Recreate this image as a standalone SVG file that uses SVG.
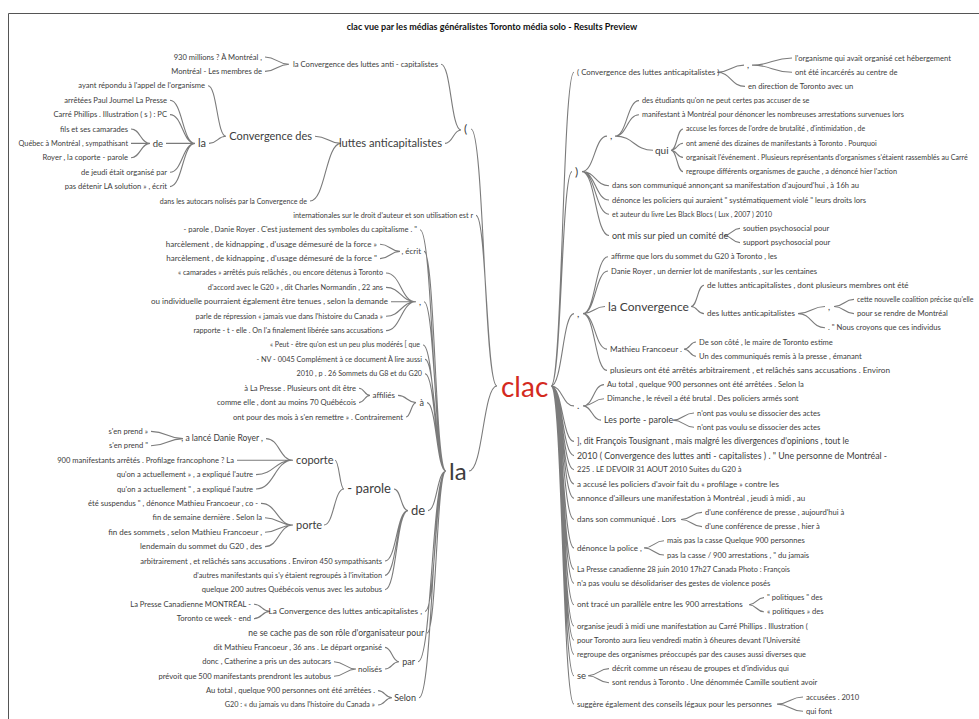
<svg xmlns="http://www.w3.org/2000/svg" width="979" height="719" viewBox="0 0 979 719">
<style>
text{font-family:Lato,"Noto Sans","Liberation Sans",sans-serif;fill:#3d3d3d}
.e{text-anchor:end}
.a{font-size:7.6px}.a2{font-size:7.2px}.a3{font-size:7.3px}.b{font-size:8px}.c{font-size:8.5px}.d{font-size:9px}.f{font-size:10px}.g{font-size:11px}.h{font-size:12px}.i{font-size:13px}
.title{font-size:9px;font-weight:bold;fill:#111;text-anchor:middle}
#connectors path{fill:none;stroke:#7b7b7b;stroke-width:1.1}
</style>
<rect x="0" y="0" width="979" height="719" fill="#fff"/>
<path d="M8.5 719V13.5H979" fill="none" stroke="#555" stroke-width="1"/>
<text class="title" x="492" y="30">clac vue par les médias généralistes Toronto média solo - Results Preview</text>
<g id="connectors">
<path d="M471 129C484 129 484 386 497 386M476 215.4C486.5 215.4 486.5 386 497 386M469 471C483 471 483 386 497 386"/>
<path d="M441 64.2C451 64.2 451 130 461 130M445 143.4C453 143.4 453 130 461 130"/>
<path d="M265 57C277 57 277 64.2 289 64.2M265 71.4C277 71.4 277 64.2 289 64.2"/>
<path d="M315 136.2C328 136.2 328 143.4 341 143.4M310 201C325.5 201 325.5 143.4 341 143.4"/>
<path d="M208 85.8C217 85.8 217 136.2 226 136.2M209 143.4C217.5 143.4 217.5 136.2 226 136.2"/>
<path d="M170 100.2C182.5 100.2 182.5 143.4 195 143.4M170 114.6C182.5 114.6 182.5 143.4 195 143.4M166 143.4H195M170 172.2C182.5 172.2 182.5 143.4 195 143.4M170 186.6C182.5 186.6 182.5 143.4 195 143.4"/>
<path d="M131 129C140.5 129 140.5 143.4 150 143.4M131 143.4H150M131 157.8C140.5 157.8 140.5 143.4 150 143.4"/>
<path d="M420 229.8C433 229.8 433 471 446 471M424 251.4C435 251.4 435 471 446 471M424 301.8C435 301.8 435 471 446 471M423 345C434.5 345 434.5 471 446 471M425 359.4C435.5 359.4 435.5 471 446 471M425 373.8C435.5 373.8 435.5 471 446 471M427 402.6C436.5 402.6 436.5 471 446 471M428 510.6C437 510.6 437 471 446 471M425 611.4C435.5 611.4 435.5 471 446 471M427 633C436.5 633 436.5 471 446 471M418 661.8C432 661.8 432 471 446 471M419 697.8C432.5 697.8 432.5 471 446 471"/>
<path d="M380 244.2C390 244.2 390 251.4 400 251.4M380 258.6C390 258.6 390 251.4 400 251.4"/>
<path d="M386 273C401 273 401 301.8 416 301.8M386 287.4C401 287.4 401 301.8 416 301.8M391 301.8H416M386 316.2C401 316.2 401 301.8 416 301.8M386 330.6C401 330.6 401 301.8 416 301.8"/>
<path d="M398 395.4C407 395.4 407 402.6 416 402.6M406 417C411 417 411 402.6 416 402.6"/>
<path d="M359 388.2C364.5 388.2 364.5 395.4 370 395.4M359 402.6C364.5 402.6 364.5 395.4 370 395.4"/>
<path d="M394 489C401 489 401 510.6 408 510.6M385 561C396.5 561 396.5 510.6 408 510.6M385 575.4C396.5 575.4 396.5 510.6 408 510.6M385 589.8C396.5 589.8 396.5 510.6 408 510.6"/>
<path d="M335 460.2C339.5 460.2 339.5 489 344 489M324 525C334 525 334 489 344 489"/>
<path d="M266 438.6C279.5 438.6 279.5 460.2 293 460.2M237 460.2H293M256 474.6C274.5 474.6 274.5 460.2 293 460.2M256 489C274.5 489 274.5 460.2 293 460.2"/>
<path d="M151 431.4C167 431.4 167 438.6 183 438.6M151 445.8C167 445.8 167 438.6 183 438.6"/>
<path d="M261 503.4C277 503.4 277 525 293 525M265 517.8C279 517.8 279 525 293 525M265 532.2C279 532.2 279 525 293 525M265 546.6C279 546.6 279 525 293 525"/>
<path d="M254 604.2C262 604.2 262 611.4 270 611.4M254 618.6C262 618.6 262 611.4 270 611.4"/>
<path d="M385 647.4C392 647.4 392 661.8 399 661.8M385 669C392 669 392 661.8 399 661.8"/>
<path d="M334 661.8C345 661.8 345 669 356 669M334 676.2C345 676.2 345 669 356 669"/>
<path d="M378 690.6C385 690.6 385 697.8 392 697.8M378 705C385 705 385 697.8 392 697.8"/>
<path d="M551 386C562.5 386 562.5 72.2 574 72.2M551 386C561.5 386 561.5 171.6 572 171.6M551 386C562.5 386 562.5 313.6 574 313.6M551 386C562.5 386 562.5 405.9 574 405.9M551 386C562.5 386 562.5 441.4 574 441.4M551 386C562.5 386 562.5 455.6 574 455.6M551 386C562.5 386 562.5 469.8 574 469.8M551 386C562.5 386 562.5 484 574 484M551 386C562.5 386 562.5 498.2 574 498.2M551 386C562.5 386 562.5 519.5 574 519.5M551 386C562.5 386 562.5 547.9 574 547.9M551 386C562.5 386 562.5 569.2 574 569.2M551 386C562.5 386 562.5 583.4 574 583.4M551 386C562.5 386 562.5 604.7 574 604.7M551 386C562.5 386 562.5 626 574 626M551 386C562.5 386 562.5 640.2 574 640.2M551 386C562.5 386 562.5 654.4 574 654.4M551 386C562.5 386 562.5 675.7 574 675.7M551 386C562.5 386 562.5 704.1 574 704.1"/>
<path d="M717 72.2C730.5 72.2 730.5 65.1 744 65.1M717 72.2C731 72.2 731 86.4 745 86.4"/>
<path d="M752 65.1C772 65.1 772 58 792 58M752 65.1C772 65.1 772 72.2 792 72.2"/>
<path d="M582 171.6C594.5 171.6 594.5 136.1 607 136.1M582 171.6C595.5 171.6 595.5 185.8 609 185.8M582 171.6C595.5 171.6 595.5 200 609 200M582 171.6C595.5 171.6 595.5 214.2 609 214.2M582 171.6C595.5 171.6 595.5 235.5 609 235.5"/>
<path d="M615 136.1C627 136.1 627 100.6 639 100.6M615 136.1C627 136.1 627 114.8 639 114.8M615 136.1C634 136.1 634 150.3 653 150.3"/>
<path d="M671 150.3C677 150.3 677 129 683 129M671 150.3C677 150.3 677 143.2 683 143.2M671 150.3C677 150.3 677 157.4 683 157.4M671 150.3C677 150.3 677 171.6 683 171.6"/>
<path d="M724 235.5C732 235.5 732 228.4 740 228.4M724 235.5C732 235.5 732 242.6 740 242.6"/>
<path d="M583 313.6C595.5 313.6 595.5 256.8 608 256.8M583 313.6C595.5 313.6 595.5 271 608 271M583 313.6C594 313.6 594 306.5 605 306.5M583 313.6C595 313.6 595 349.1 607 349.1M583 313.6C595 313.6 595 370.4 607 370.4"/>
<path d="M691 306.5C697.5 306.5 697.5 285.2 704 285.2M691 306.5C697.5 306.5 697.5 313.6 704 313.6"/>
<path d="M798 313.6C811.5 313.6 811.5 306.5 825 306.5M798 313.6C811.5 313.6 811.5 327.8 825 327.8"/>
<path d="M834 306.5C844 306.5 844 299.4 854 299.4M834 306.5C844 306.5 844 313.6 854 313.6"/>
<path d="M684 349.1C690 349.1 690 342 696 342M684 349.1C690 349.1 690 356.2 696 356.2"/>
<path d="M583 405.9C593.5 405.9 593.5 384.6 604 384.6M583 405.9C593.5 405.9 593.5 398.8 604 398.8M583 405.9C592 405.9 592 420.1 601 420.1"/>
<path d="M673 420.1C683.5 420.1 683.5 413 694 413M673 420.1C683.5 420.1 683.5 427.2 694 427.2"/>
<path d="M681 519.5C691.5 519.5 691.5 512.4 702 512.4M681 519.5C691.5 519.5 691.5 526.6 702 526.6"/>
<path d="M644 547.9C654 547.9 654 540.8 664 540.8M644 547.9C654 547.9 654 555 664 555"/>
<path d="M749 604.7C756.5 604.7 756.5 597.6 764 597.6M749 604.7C756.5 604.7 756.5 611.8 764 611.8"/>
<path d="M588 675.7C598.5 675.7 598.5 668.6 609 668.6M588 675.7C598.5 675.7 598.5 682.8 609 682.8"/>
<path d="M777 704.1C790 704.1 790 697 803 697M777 704.1C790 704.1 790 711.2 803 711.2"/>
</g>
<g id="root"><text x="501" y="397" style="font-size:28px;fill:#d42a1e">clac</text></g>
<g id="n-paren-open"><text class="h" x="464" y="133">(</text></g>
<g id="n-laconv-anti"><text class="e" style="font-size:7.7px" x="438" y="66.7">la Convergence des luttes anti - capitalistes</text></g>
<g id="L1"><text class="a e" x="262" y="59.5">930 millions ? À Montréal ,</text></g>
<g id="L2"><text class="a e" x="262" y="73.9">Montréal - Les membres de</text></g>
<g id="n-luttes"><text class="e" style="font-size:11.2px" x="442" y="147.1">luttes anticapitalistes</text></g>
<g id="n-convdes"><text class="g e" x="312" y="139.8">Convergence des</text></g>
<g id="L3"><text class="a e" x="205" y="88.3">ayant répondu à l'appel de l'organisme</text></g>
<g id="n-la-small"><text class="g e" x="206" y="147">la</text></g>
<g id="L4"><text class="a e" x="167" y="102.7">arrêtées Paul Journel La Presse</text></g>
<g id="L5"><text class="a e" x="167" y="117.1">Carré Phillips . Illustration ( s ) : PC</text></g>
<g id="n-de-small"><text class="e" style="font-size:9.5px" x="163" y="146.5">de</text></g>
<g id="L6"><text class="a e" x="128" y="131.5">fils et ses camarades</text></g>
<g id="L7"><text class="a3 e" x="128" y="145.9">Québec à Montréal , sympathisant</text></g>
<g id="L8"><text class="a e" x="128" y="160.3">Royer , la coporte - parole</text></g>
<g id="L9"><text class="a e" x="167" y="174.7">de jeudi était organisé par</text></g>
<g id="L10"><text class="a e" x="167" y="189.1">pas détenir LA solution » , écrit</text></g>
<g id="L11"><text class="e" style="font-size:7.1px" x="307" y="203.5">dans les autocars nolisés par la Convergence de</text></g>
<g id="L12"><text class="a2 e" x="473" y="217.8">internationales sur le droit d'auteur et son utilisation est r</text></g>
<g id="n-la-big"><text x="449" y="480" style="font-size:24px">la</text></g>
<g id="L13"><text class="a e" x="417" y="232.3">- parole , Danie Royer . C'est justement des symboles du capitalisme . "</text></g>
<g id="n-ecrit"><text class="b e" x="421" y="254">, écrit</text></g>
<g id="L14"><text class="b e" x="377" y="246.8">harcèlement , de kidnapping , d'usage démesuré de la force »</text></g>
<g id="L15"><text class="b e" x="377" y="261.2">harcèlement , de kidnapping , d'usage démesuré de la force "</text></g>
<g id="n-comma-l"><text class="d e" x="421" y="304.8">,</text></g>
<g id="L16"><text class="a2 e" x="383" y="275.4">« camarades » arrêtés puis relâchés , ou encore détenus à Toronto</text></g>
<g id="L17"><text class="a3 e" x="383" y="289.8">d'accord avec le G20 » , dit Charles Normandin , 22 ans</text></g>
<g id="L18"><text class="b e" x="388" y="304.4">ou individuelle pourraient également être tenues , selon la demande</text></g>
<g id="L19"><text class="a3 e" x="383" y="318.6">parle de répression « jamais vue dans l'histoire du Canada »</text></g>
<g id="L20"><text class="a2 e" x="383" y="333">rapporte - t - elle . On l'a finalement libérée sans accusations</text></g>
<g id="L21"><text class="e" style="font-size:7px" x="420" y="347.4">« Peut - être qu'on est un peu plus modérés [ que</text></g>
<g id="L22"><text class="a3 e" x="422" y="361.8">- NV - 0045 Complément à ce document À lire aussi</text></g>
<g id="L23"><text class="a2 e" x="422" y="376.2">2010 , p . 26 Sommets du G8 et du G20</text></g>
<g id="n-a"><text class="d e" x="424" y="405.6">à</text></g>
<g id="n-affilies"><text class="b e" x="395" y="398">affiliés</text></g>
<g id="L24"><text class="a e" x="356" y="390.7">à La Presse . Plusieurs ont dit être</text></g>
<g id="L25"><text class="a e" x="356" y="405.1">comme elle , dont au moins 70 Québécois</text></g>
<g id="L26"><text class="a e" x="403" y="419.5">ont pour des mois à s'en remettre » . Contrairement</text></g>
<g id="n-de-big"><text class="i" x="411" y="514.9">de</text></g>
<g id="n-parole"><text class="i e" x="391" y="493.3">- parole</text></g>
<g id="n-coporte"><text class="g" x="296" y="463.8">coporte</text></g>
<g id="n-lance"><text class="c e" x="263" y="441.4">, a lancé Danie Royer ,</text></g>
<g id="L27"><text class="a e" x="148" y="433.9">s'en prend »</text></g>
<g id="L28"><text class="a e" x="148" y="448.3">s'en prend "</text></g>
<g id="L29"><text class="a e" x="234" y="462.7">900 manifestants arrêtés . Profilage francophone ? La</text></g>
<g id="L30"><text class="a e" x="253" y="477.1">qu'on a actuellement » , a expliqué l'autre</text></g>
<g id="L31"><text class="a e" x="253" y="491.5">qu'on a actuellement " , a expliqué l'autre</text></g>
<g id="n-porte"><text class="g" x="296" y="528.6">porte</text></g>
<g id="L32"><text class="a e" x="258" y="505.9">été suspendus " , dénonce Mathieu Francoeur , co -</text></g>
<g id="L33"><text class="a e" x="262" y="520.3">fin de semaine dernière . Selon la</text></g>
<g id="L34"><text class="b e" x="262" y="534.8">fin des sommets , selon Mathieu Francoeur ,</text></g>
<g id="L35"><text class="e" style="font-size:7.9px" x="262" y="549.2">lendemain du sommet du G20 , des</text></g>
<g id="L36"><text class="a e" x="382" y="563.5">arbitrairement , et relâchés sans accusations . Environ 450 sympathisants</text></g>
<g id="L37"><text class="a3 e" x="382" y="577.8">d'autres manifestants qui s'y étaient regroupés à l'invitation</text></g>
<g id="L38"><text class="a e" x="382" y="592.3">quelque 200 autres Québécois venus avec les autobus</text></g>
<g id="n-laconv-comma"><text class="e" style="font-size:8.2px" x="422" y="614.1">La Convergence des luttes anticapitalistes ,</text></g>
<g id="L39"><text class="a e" x="251" y="606.7">La Presse Canadienne MONTRÉAL -</text></g>
<g id="L40"><text class="a e" x="251" y="621.1">Toronto ce week - end</text></g>
<g id="L41"><text class="c e" x="424" y="635.8">ne se cache pas de son rôle d'organisateur pour</text></g>
<g id="n-par"><text class="d e" x="415" y="664.8">par</text></g>
<g id="L42"><text class="a e" x="382" y="649.9">dit Mathieu Francoeur , 36 ans . Le départ organisé</text></g>
<g id="n-nolises"><text class="b e" x="382" y="671.6">nolisés</text></g>
<g id="L43"><text class="a e" x="331" y="664.3">donc , Catherine a pris un des autocars</text></g>
<g id="L44"><text class="a e" x="331" y="678.7">prévoit que 500 manifestants prendront les autobus</text></g>
<g id="n-selon"><text class="d e" x="416" y="700.8">Selon</text></g>
<g id="L45"><text class="a e" x="375" y="693.1">Au total , quelque 900 personnes ont été arrêtées .</text></g>
<g id="L46"><text class="a3 e" x="375" y="707.4">G20 : « du jamais vu dans l'histoire du Canada »</text></g>
<g id="n-conv-paren"><text x="577" y="74.8" style="font-size:7.9px">( Convergence des luttes anticapitalistes )</text></g>
<g id="n-comma-r1"><text class="d" x="747" y="68.1">,</text></g>
<g id="R1"><text class="a" x="795" y="60.5">l'organisme qui avait organisé cet hébergement</text></g>
<g id="R2"><text class="a" x="795" y="74.7">ont été incarcérés au centre de</text></g>
<g id="R3"><text class="a" x="748" y="88.9">en direction de Toronto avec un</text></g>
<g id="n-paren-close"><text class="h" x="575" y="175.6">)</text></g>
<g id="n-comma-r2"><text class="f" x="610" y="139.4">,</text></g>
<g id="R4"><text class="a3" x="642" y="103">des étudiants qu'on ne peut certes pas accuser de se</text></g>
<g id="R5"><text class="a3" x="642" y="117.2">manifestant à Montréal pour dénoncer les nombreuses arrestations survenues lors</text></g>
<g id="n-qui"><text class="f" x="655" y="153.6">qui</text></g>
<g id="R6"><text style="font-size:7px" x="686" y="131.4">accuse les forces de l'ordre de brutalité , d'intimidation , de</text></g>
<g id="R7"><text class="a2" x="686" y="145.6">ont amené des dizaines de manifestants à Toronto . Pourquoi</text></g>
<g id="R8"><text style="font-size:7.1px" x="686" y="159.8">organisait l'événement . Plusieurs représentants d'organismes s'étaient rassemblés au Carré</text></g>
<g id="R9"><text class="a3" x="686" y="174">regroupe différents organismes de gauche , a dénoncé hier l'action</text></g>
<g id="R10"><text class="a" x="612" y="188.3">dans son communiqué annonçant sa manifestation d'aujourd'hui , à 16h au</text></g>
<g id="R11"><text class="a" x="612" y="202.5">dénonce les policiers qui auraient " systématiquement violé " leurs droits lors</text></g>
<g id="R12"><text style="font-size:7px" x="612" y="216.6">et auteur du livre Les Black Blocs ( Lux , 2007 ) 2010</text></g>
<g id="n-comite"><text class="d" x="612" y="238.5">ont mis sur pied un comité de</text></g>
<g id="R13"><text class="a" x="743" y="230.9">soutien psychosocial pour</text></g>
<g id="R14"><text class="a" x="743" y="245.1">support psychosocial pour</text></g>
<g id="n-comma-r3"><text class="f" x="577" y="316.9">,</text></g>
<g id="R15"><text class="a" x="611" y="259.3">affirme que lors du sommet du G20 à Toronto , les</text></g>
<g id="R16"><text class="a" x="611" y="273.5">Danie Royer , un dernier lot de manifestants , sur les centaines</text></g>
<g id="n-laconv"><text class="h" x="608" y="310.5">la Convergence</text></g>
<g id="R17"><text class="b" x="707" y="287.8">de luttes anticapitalistes , dont plusieurs membres ont été</text></g>
<g id="n-desluttes"><text class="b" x="707" y="316.2">des luttes anticapitalistes</text></g>
<g id="n-comma-r4"><text class="d" x="828" y="309.5">,</text></g>
<g id="R18"><text style="font-size:7px" x="857" y="301.8">cette nouvelle coalition précise qu'elle</text></g>
<g id="R19"><text class="a" x="857" y="316.1">pour se rendre de Montréal</text></g>
<g id="R20"><text class="a" x="828" y="330.3">. " Nous croyons que ces individus</text></g>
<g id="n-mathieu"><text style="font-size:8.2px" x="610" y="351.8">Mathieu Francoeur .</text></g>
<g id="R21"><text class="a" x="699" y="344.5">De son côté , le maire de Toronto estime</text></g>
<g id="R22"><text class="a" x="699" y="358.7">Un des communiqués remis à la presse , émanant</text></g>
<g id="R23"><text style="font-size:8.2px" x="610" y="373.1">plusieurs ont été arrêtés arbitrairement , et relâchés sans accusations . Environ</text></g>
<g id="n-dot"><text class="f" x="577" y="409.2">.</text></g>
<g id="R24"><text class="a" x="607" y="387.1">Au total , quelque 900 personnes ont été arrêtées . Selon la</text></g>
<g id="R25"><text class="a" x="607" y="401.3">Dimanche , le réveil a été brutal . Des policiers armés sont</text></g>
<g id="n-porteparole"><text class="d" x="604" y="423.1">Les porte - parole</text></g>
<g id="R26"><text class="a" x="697" y="415.5">n'ont pas voulu se dissocier des actes</text></g>
<g id="R27"><text class="a" x="697" y="429.7">n'ont pas voulu se dissocier des actes</text></g>
<g id="R28"><text class="c" x="577" y="444.2">], dit François Tousignant , mais malgré les divergences d'opinions , tout le</text></g>
<g id="R29"><text x="577" y="458.5" style="font-size:8.8px">2010 ( Convergence des luttes anti - capitalistes ) . " Une personne de Montréal -</text></g>
<g id="R30"><text class="a" x="577" y="472.3">225 . LE DEVOIR 31 AOUT 2010 Suites du G20 à</text></g>
<g id="R31"><text class="b" x="577" y="486.6">a accusé les policiers d'avoir fait du « profilage » contre les</text></g>
<g id="R32"><text class="b" x="577" y="500.8">annonce d'ailleurs une manifestation à Montréal , jeudi à midi , au</text></g>
<g id="n-lors"><text class="b" x="577" y="522.1">dans son communiqué . Lors</text></g>
<g id="R33"><text class="a" x="705" y="514.9">d'une conférence de presse , aujourd'hui à</text></g>
<g id="R34"><text class="a" x="705" y="529.1">d'une conférence de presse , hier à</text></g>
<g id="n-police"><text class="b" x="577" y="550.5">dénonce la police ,</text></g>
<g id="R35"><text class="a" x="667" y="543.3">mais pas la casse Quelque 900 personnes</text></g>
<g id="R36"><text class="a" x="667" y="557.5">pas la casse / 900 arrestations , " du jamais</text></g>
<g id="R37"><text class="a3" x="577" y="571.6">La Presse canadienne 28 juin 2010 17h27 Canada Photo : François</text></g>
<g id="R38"><text class="a" x="577" y="585.9">n'a pas voulu se désolidariser des gestes de violence posés</text></g>
<g id="n-trace"><text class="b" x="577" y="607.3">ont tracé un parallèle entre les 900 arrestations</text></g>
<g id="R39"><text class="a" x="767" y="600.1">" politiques " des</text></g>
<g id="R40"><text class="a" x="767" y="614.3">« politiques » des</text></g>
<g id="R41"><text class="a" x="577" y="628.5">organise jeudi à midi une manifestation au Carré Phillips . Illustration (</text></g>
<g id="R42"><text class="a" x="577" y="642.7">pour Toronto aura lieu vendredi matin à 6heures devant l'Université</text></g>
<g id="R43"><text style="font-size:7.4px" x="577" y="656.8">regroupe des organismes préoccupés par des causes aussi diverses que</text></g>
<g id="n-se"><text x="577" y="678.8" style="font-size:9.5px">se</text></g>
<g id="R44"><text class="a" x="612" y="671.1">décrit comme un réseau de groupes et d'individus qui</text></g>
<g id="R45"><text class="a" x="612" y="685.3">sont rendus à Toronto . Une dénommée Camille soutient avoir</text></g>
<g id="n-suggere"><text x="577" y="706.6" style="font-size:7.7px">suggère également des conseils légaux pour les personnes</text></g>
<g id="R46"><text class="a" x="806" y="699.5">accusées . 2010</text></g>
<g id="R47"><text class="a" x="806" y="713.7">qui font</text></g>
</svg>
